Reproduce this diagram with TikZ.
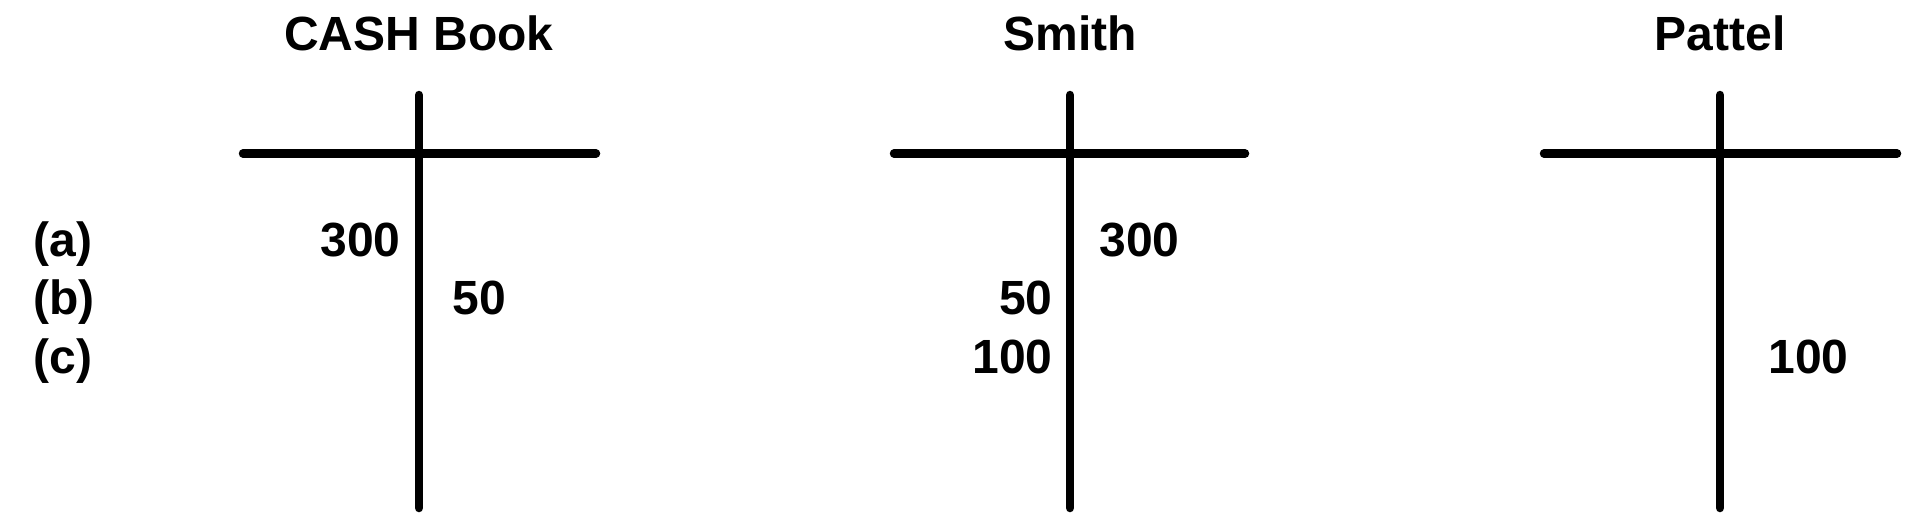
\documentclass[tikz,border=0pt]{standalone}
\usepackage{fontspec}
\setmainfont{Liberation Sans}
\usepackage{tikz}
\usetikzlibrary{positioning}

\tikzset{
  acct/.style={line width=4.25pt, line cap=round},
  lbl/.style={font=\bfseries\fontsize{24}{28}\selectfont, inner sep=0pt},
}

\begin{document}
\begin{tikzpicture}[x=0.5pt,y=-0.5pt]
  \useasboundingbox (0,0) rectangle (1915,526);

  % titles
  \node[lbl, anchor=base] (cash) at (419,50) {CASH Book};
  \node[lbl, anchor=base] (smith) at (1070,50) {Smith};
  \node[lbl, anchor=base] (pattel) at (1720,50) {Pattel};

  % row labels
  \node[lbl, anchor=base west] (ra) at (33,256) {(a)};
  \node[lbl, anchor=base west] (rb) at (33,314) {(b)};
  \node[lbl, anchor=base west] (rc) at (33,373) {(c)};

  % T lines
  \coordinate (cT) at (419,95);
  \coordinate (cB) at (419,508);
  \coordinate (cL) at (243,153.5);
  \coordinate (cR) at (596,153.5);
  \coordinate (sT) at (1070,95);
  \coordinate (sB) at (1070,508);
  \coordinate (sL) at (894,153.5);
  \coordinate (sR) at (1245,153.5);
  \coordinate (pT) at (1720,95);
  \coordinate (pB) at (1720,508);
  \coordinate (pL) at (1544,153.5);
  \coordinate (pR) at (1897,153.5);
  \draw[acct] (cT) -- (cB);
  \draw[acct] (cL) -- (cR);
  \draw[acct] (sT) -- (sB);
  \draw[acct] (sL) -- (sR);
  \draw[acct] (pT) -- (pB);
  \draw[acct] (pL) -- (pR);

  % entries
  \node[lbl, anchor=base east] (c300) at (401,256) {300};
  \node[lbl, anchor=base west] (c50) at (452,314) {50};
  \node[lbl, anchor=base west] (s300) at (1099,256) {300};
  \node[lbl, anchor=base east] (s50) at (1053,314) {50};
  \node[lbl, anchor=base east] (s100) at (1053,373) {100};
  \node[lbl, anchor=base west] (p100) at (1768,373) {100};
\end{tikzpicture}
\end{document}
